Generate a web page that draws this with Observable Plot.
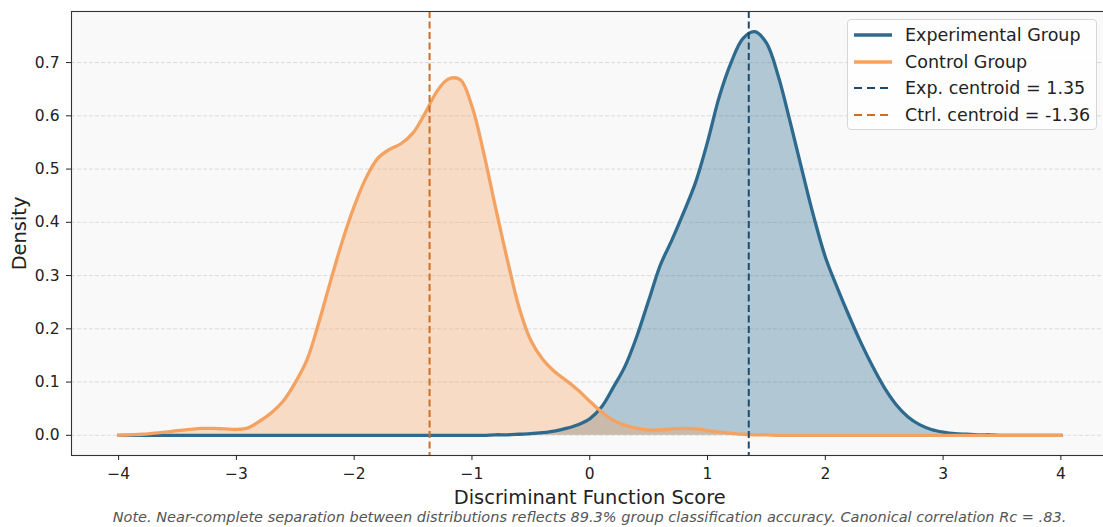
<!DOCTYPE html>
<html>
<head>
<meta charset="utf-8">
<script src="https://cdn.jsdelivr.net/npm/d3@7"></script>
<script src="https://cdn.jsdelivr.net/npm/@observablehq/plot@0.6"></script>
<style>
  html, body { margin: 0; padding: 0; background: #fff; overflow: hidden; }
  body { font-family: "DejaVu Sans", sans-serif; }
  #wrap { position: relative; width: 1103px; }
  #chart svg { display: block; }
  #legend {
    position: absolute; left: 847px; top: 19px; width: 250px; height: 111px;
    box-sizing: border-box; border: 1px solid #d6d6d6; border-radius: 4px;
    background: rgba(255, 255, 255, 0.85);
  }
  .row {
    position: absolute; left: 5px; height: 24px; line-height: 24px;
    font-size: 17.5px; color: #222; white-space: nowrap;
  }
  .row svg { position: absolute; left: 0; top: 0; }
  .row span { position: absolute; left: 52px; top: 0; }
  #note {
    box-sizing: border-box; width: 1103px; padding-left: 76px; text-align: center;
    font-style: italic; font-size: 14.5px; line-height: 18px; color: #555;
  }
</style>
</head>
<body>
<div id="wrap">
  <div id="chart"></div>
  <div id="legend"></div>
  <div id="note"></div>
</div>
<script>
// Evaluation grid for the kernel density estimates (discriminant scores)
const scores = [
  -4.0, -3.9, -3.8, -3.7, -3.6, -3.5, -3.4, -3.3, -3.2, -3.1,
  -3.0, -2.9, -2.8, -2.7, -2.6, -2.5, -2.4, -2.3, -2.2, -2.1,
  -2.0, -1.9, -1.8, -1.7, -1.6, -1.5, -1.4, -1.3, -1.2, -1.1,
  -1.0, -0.9, -0.8, -0.7, -0.6, -0.5, -0.4, -0.3, -0.2, -0.1,
   0.0,  0.1,  0.2,  0.3,  0.4,  0.5,  0.6,  0.7,  0.8,  0.9,
   1.0,  1.1,  1.2,  1.3,  1.4,  1.5,  1.6,  1.7,  1.8,  1.9,
   2.0,  2.1,  2.2,  2.3,  2.4,  2.5,  2.6,  2.7,  2.8,  2.9,
   3.0,  3.1,  3.2,  3.3,  3.4,  3.5,  3.6,  3.7,  3.8,  3.9,
   4.0
];

// Density of the experimental group at each score
const expDensity = [
  0, 0, 0, 0, 0, 0, 0, 0, 0, 0,
  0, 0, 0, 0, 0, 0, 0, 0, 0, 0,
  0, 0, 0, 0, 0, 0, 0, 0, 0, 0,
  0, 0, 0.001, 0.001, 0.002, 0.003, 0.005, 0.008, 0.013, 0.020,
  0.031, 0.053, 0.090, 0.130, 0.186, 0.253, 0.320, 0.368, 0.420, 0.476,
  0.551, 0.636, 0.700, 0.745, 0.758, 0.737, 0.675, 0.590, 0.500, 0.412,
  0.335, 0.278, 0.225, 0.175, 0.130, 0.090, 0.058, 0.035, 0.020, 0.011,
  0.006, 0.003, 0.002, 0.001, 0.001, 0, 0, 0, 0, 0,
  0
];

// Density of the control group at each score
const ctrlDensity = [
  0.000, 0.001, 0.002, 0.004, 0.006, 0.009, 0.011, 0.013, 0.013, 0.012,
  0.011, 0.014, 0.027, 0.043, 0.065, 0.099, 0.142, 0.212, 0.290, 0.365,
  0.430, 0.483, 0.520, 0.537, 0.548, 0.568, 0.604, 0.645, 0.669, 0.668,
  0.618, 0.530, 0.428, 0.330, 0.240, 0.178, 0.143, 0.120, 0.103, 0.085,
  0.064, 0.044, 0.028, 0.019, 0.013, 0.010, 0.010, 0.012, 0.013, 0.012,
  0.009, 0.006, 0.004, 0.002, 0.001, 0.001, 0, 0, 0, 0,
  0, 0, 0, 0, 0, 0, 0, 0, 0, 0,
  0, 0, 0, 0, 0, 0, 0, 0, 0, 0,
  0
];

// Group centroids on the discriminant function
const expCentroid = 1.35;
const ctrlCentroid = -1.36;

// Axis ticks
const xTicks = [-4, -3, -2, -1, 0, 1, 2, 3, 4];
const yTicks = [0, 0.1, 0.2, 0.3, 0.4, 0.5, 0.6, 0.7];

const colors = {
  exp: "#2d6a8e",
  ctrl: "#f4a261",
  expCentroid: "#1d4b6b",
  ctrlCentroid: "#c96f2b"
};

const rows = scores.map((score, i) => ({score, exp: expDensity[i], ctrl: ctrlDensity[i]}));

// Axis limits with a 5% margin around the data, as in the original figure
const [xMin, xMax] = d3.extent(scores);
const xPad = (xMax - xMin) * 0.05;
const yMax = d3.max([...expDensity, ...ctrlDensity]);
const yPad = yMax * 0.05;

const minus = v => (v < 0 ? "\u2212" : "") + Math.abs(v);
const curve = "catmull-rom";

const chart = Plot.plot({
  width: 1103,
  height: 508,
  marginLeft: 71,
  marginRight: -4.5,
  marginTop: 11,
  marginBottom: 53,
  style: {fontFamily: "DejaVu Sans, sans-serif", color: "#222", background: "#fff"},
  x: {domain: [xMin - xPad, xMax + xPad]},
  y: {domain: [-yPad, yMax + yPad]},
  marks: [
    Plot.frame({fill: "#f9f9f9", stroke: null}),
    Plot.gridY(yTicks, {stroke: "#d8d8d8", strokeOpacity: 1, strokeWidth: 0.9, strokeDasharray: "4,2"}),
    Plot.areaY(rows, {x: "score", y: "exp", fill: colors.exp, fillOpacity: 0.35, curve}),
    Plot.areaY(rows, {x: "score", y: "ctrl", fill: colors.ctrl, fillOpacity: 0.35, curve}),
    Plot.lineY(rows, {x: "score", y: "exp", stroke: colors.exp, strokeWidth: 3.3, curve, strokeLinecap: "square"}),
    Plot.lineY(rows, {x: "score", y: "ctrl", stroke: colors.ctrl, strokeWidth: 3.3, curve, strokeLinecap: "square"}),
    Plot.ruleX([expCentroid], {stroke: colors.expCentroid, strokeWidth: 2, strokeDasharray: "7,3.5"}),
    Plot.ruleX([ctrlCentroid], {stroke: colors.ctrlCentroid, strokeWidth: 2, strokeDasharray: "7,3.5"}),
    Plot.frame({stroke: "#333", strokeWidth: 1.1}),
    Plot.axisX(xTicks, {tickFormat: minus, tickSize: 5, tickPadding: 7, fontSize: 15.5, label: null}),
    Plot.axisY(yTicks, {tickFormat: d3.format(".1f"), tickSize: 5, tickPadding: 7, fontSize: 15.5, label: null}),
    Plot.text(["Discriminant Function Score"], {frameAnchor: "bottom", textAnchor: "middle", lineAnchor: "middle", dy: 42, fontSize: 19.4, fill: "#222"}),
    Plot.text(["Density"], {frameAnchor: "left", textAnchor: "middle", lineAnchor: "middle", rotate: -90, dx: -52, fontSize: 19.4, fill: "#222"})
  ]
});
document.getElementById("chart").append(chart);

// Legend inside the plot area, top right
const legendItems = [
  {label: "Experimental Group", color: colors.exp, dash: null, width: 3.3},
  {label: "Control Group", color: colors.ctrl, dash: null, width: 3.3},
  {label: `Exp. centroid = ${expCentroid.toFixed(2)}`, color: colors.expCentroid, dash: "8,5", width: 2},
  {label: `Ctrl. centroid = ${ctrlCentroid.toFixed(2)}`, color: colors.ctrlCentroid, dash: "8,5", width: 2}
];
const legend = d3.select("#legend");
legendItems.forEach((d, i) => {
  const row = legend.append("div").attr("class", "row").style("top", `${3 + i * 26.7}px`);
  const svg = row.append("svg").attr("width", 42).attr("height", 24);
  svg.append("line")
    .attr("x1", 1).attr("x2", 39).attr("y1", 12).attr("y2", 12)
    .attr("stroke", d.color).attr("stroke-width", d.width)
    .attr("stroke-dasharray", d.dash);
  row.append("span").text(d.label);
});

document.getElementById("note").textContent =
  "Note. Near-complete separation between distributions reflects 89.3% group classification accuracy. Canonical correlation Rc = .83.";
</script>
</body>
</html>
